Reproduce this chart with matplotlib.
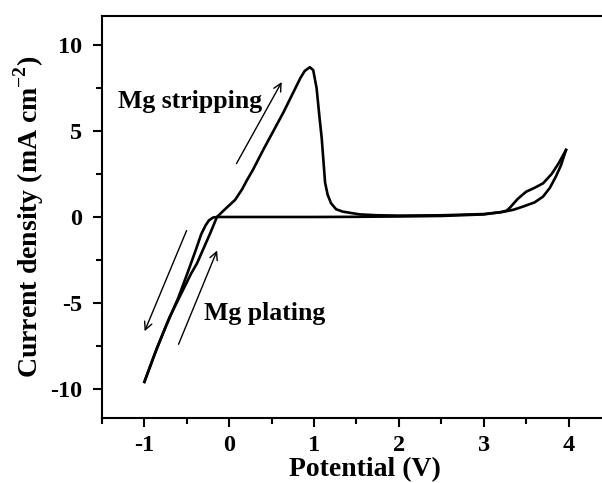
import matplotlib
matplotlib.use('Agg')
import matplotlib.pyplot as plt
from matplotlib.ticker import MultipleLocator

# 字体设置：Times 风格的粗体
plt.rcParams['font.family'] = ['Liberation Serif', 'DejaVu Serif']
plt.rcParams['font.weight'] = 'bold'
plt.rcParams['axes.unicode_minus'] = False
plt.rcParams['mathtext.fontset'] = 'custom'
plt.rcParams['mathtext.rm'] = 'Liberation Serif'
plt.rcParams['mathtext.bf'] = 'Liberation Serif:bold'

# 正向扫描 (阳极, -1 V -> 4 V)
fwd_v = [-1.00, -0.85, -0.70, -0.55, -0.45, -0.38, -0.30, -0.22, -0.145,
         -0.05, 0.07, 0.15, 0.21, 0.28, 0.40, 0.52, 0.64, 0.74, 0.84, 0.89,
         0.95, 0.99, 1.03, 1.06, 1.09, 1.11, 1.13, 1.16, 1.20, 1.26, 1.34,
         1.54, 1.75, 2.0, 2.5, 3.0, 3.2, 3.27, 3.31, 3.40, 3.50, 3.60, 3.70,
         3.80, 3.88, 3.97]
fwd_j = [-9.6, -7.6, -5.8, -4.3, -3.3, -2.7, -1.8, -0.9, 0.0,
         0.45, 1.0, 1.6, 2.15, 2.75, 3.9, 5.0, 6.1, 7.1, 8.1, 8.5,
         8.72, 8.55, 7.5, 6.0, 4.6, 3.3, 2.0, 1.3, 0.8, 0.45, 0.31,
         0.15, 0.1, 0.08, 0.1, 0.17, 0.28, 0.37, 0.55, 1.05, 1.47, 1.7, 1.96,
         2.5, 3.1, 3.9]

# 反向扫描 (阴极, 4 V -> -1 V)
rev_v = [3.97, 3.91, 3.85, 3.78, 3.70, 3.60, 3.46, 3.35, 3.23, 3.0, 2.5,
         2.0, 1.5, 1.0, 0.0, -0.14, -0.19, -0.24, -0.28, -0.33, -0.40, -0.48,
         -0.60, -0.75, -0.88, -1.00]
rev_j = [3.9, 3.0, 2.35, 1.7, 1.19, 0.85, 0.6, 0.42, 0.3, 0.15, 0.06,
         0.03, 0.01, 0.0, 0.0, 0.0, -0.03, -0.2, -0.5, -1.0, -2.0, -3.1,
         -4.7, -6.4, -8.0, -9.6]

fig = plt.figure(figsize=(6.02, 4.83), dpi=100)
ax = fig.add_axes([0.1694, 0.1346, 0.8455, 0.8323])

ax.plot(fwd_v, fwd_j, color='black', lw=1.9)
ax.plot(rev_v, rev_j, color='black', lw=1.9)

ax.set_xlim(-1.5, 4.5)
ax.set_ylim(-11.7, 11.7)
ax.xaxis.set_major_locator(MultipleLocator(1))
ax.xaxis.set_minor_locator(MultipleLocator(0.5))
ax.yaxis.set_major_locator(MultipleLocator(5))
ax.yaxis.set_minor_locator(MultipleLocator(2.5))
ax.tick_params(which='major', direction='out', length=6.5, width=1.5,
               labelsize=17.5, pad=6)
ax.tick_params(axis='y', which='major', pad=8)
ax.tick_params(which='minor', direction='out', length=4.3, width=1.5)
for s in ax.spines.values():
    s.set_linewidth(1.5)

ax.set_xlabel('Potential (V)', fontsize=20, fontweight='bold')
ax.xaxis.set_label_coords(0.517, -0.098)
ax.set_ylabel(r'Current density (mA cm$^{\mathbf{-2}}$)', fontsize=20,
              fontweight='bold', labelpad=3)

# 箭头与标注
arrow = dict(arrowstyle='->', color='black', lw=1.0, mutation_scale=14)
ax.annotate('', xy=(0.635, 8.0), xytext=(0.07, 2.97), arrowprops=arrow)
ax.annotate('', xy=(-1.01, -6.8), xytext=(-0.49, -0.64), arrowprops=arrow)
ax.annotate('', xy=(-0.13, -1.8), xytext=(-0.61, -7.56), arrowprops=arrow)
ax.text(-1.31, 6.7, 'Mg stripping', fontsize=18.5, fontweight='bold', va='center')
ax.text(-0.3, -5.6, 'Mg plating', fontsize=18.5, fontweight='bold', va='center')

fig.savefig('out.png', dpi=100)
